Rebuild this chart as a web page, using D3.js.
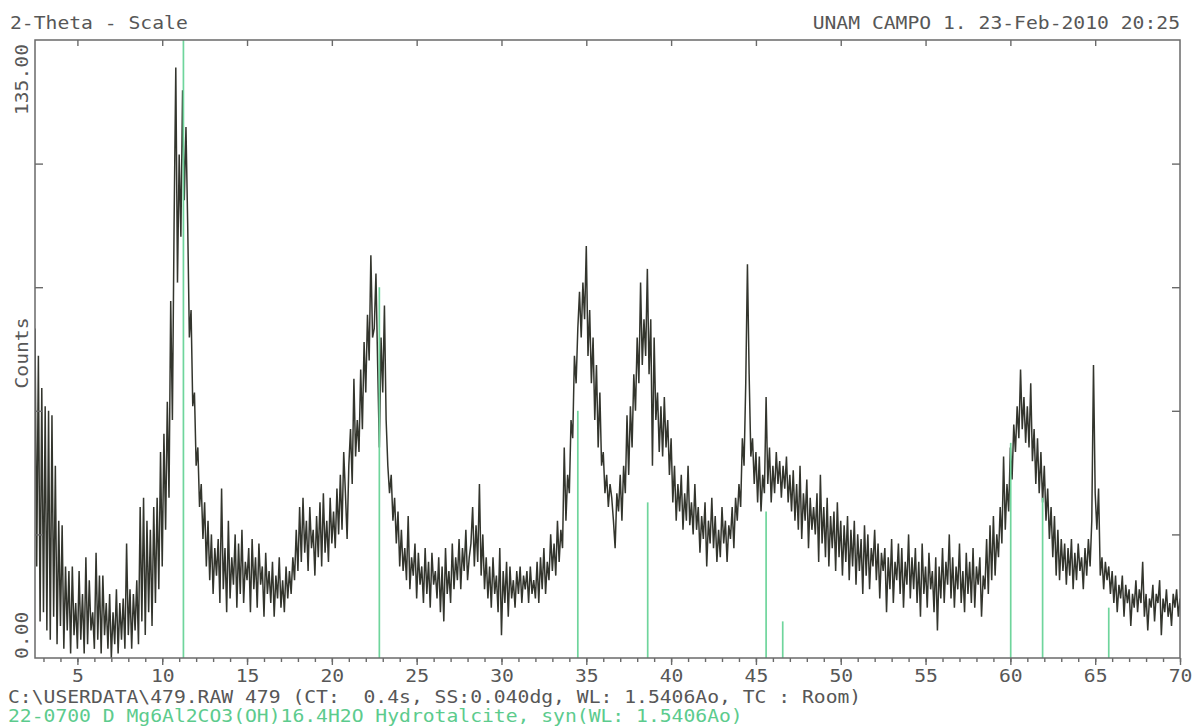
<!doctype html>
<html lang="en">
<head>
  <meta charset="utf-8">
  <title>2-Theta - Scale</title>
  <script type="text/javascript" src="https://cdnjs.cloudflare.com/ajax/libs/d3/7.8.5/d3.min.js"></script>
  <style>
    body { margin: 0; background: #fff; }
    text { font-family: "DejaVu Sans Mono", "Liberation Mono", monospace; white-space: pre; }
  </style>
</head>
<body>
  <svg width="1196" height="726" id="svg"></svg>
</body>
<script type="text/javascript">

  /* measured counts, one row per degree, 0.1 deg apart; row r starts at 2.5 + r */
  var rowStart = 2.5;
  var step = 0.1;
  var countRows = [
    [72, 20, 66, 8, 59, 10, 55, 6, 54, 4],        // 2.5
    [53, 9, 42, 3, 30, 7, 29, 2, 20, 6],          // 3.5
    [19, 1, 20, 5, 12, 2, 19, 4, 14, 1],          // 4.5
    [22, 3, 17, 6, 10, 2, 23, 4, 18, 1],          // 5.5
    [18, 5, 12, 2, 14, 0, 10, 3, 15, 1],          // 6.5
    [12, 4, 13, 2, 25, 5, 15, 2, 14, 6],          // 7.5
    [17, 3, 33, 8, 35, 5, 30, 10, 28, 7],         // 8.5
    [33, 12, 35, 15, 45, 20, 49, 28, 56, 35],     // 9.5
    [78, 52, 95, 129, 82, 110, 92, 124, 100, 116],// 10.5
    [95, 70, 76, 55, 58, 42, 46, 33, 38, 26],     // 11.5
    [34, 20, 30, 17, 27, 14, 24, 18, 26, 12],     // 12.5
    [37, 15, 24, 10, 30, 13, 22, 16, 27, 11],     // 13.5
    [25, 14, 28, 12, 21, 17, 24, 10, 26, 15],     // 14.5
    [22, 11, 25, 16, 20, 9, 23, 14, 19, 12],      // 15.5
    [21, 9, 18, 13, 22, 11, 17, 10, 20, 13],      // 16.5
    [19, 14, 22, 17, 28, 19, 33, 21, 35, 23],     // 17.5
    [30, 19, 33, 24, 28, 18, 31, 22, 34, 20],     // 18.5
    [36, 23, 30, 21, 35, 25, 32, 24, 37, 27],     // 19.5
    [40, 28, 45, 36, 26, 42, 50, 38, 61, 44],     // 20.5
    [52, 45, 63, 50, 69, 58, 75, 65, 88, 70],     // 21.5
    [72, 84, 64, 46, 70, 58, 77, 52, 42, 36],     // 22.5
    [40, 30, 35, 25, 32, 20, 28, 19, 24, 17],     // 23.5
    [31, 15, 22, 18, 25, 13, 23, 16, 20, 12],     // 24.5
    [24, 14, 21, 11, 23, 16, 19, 13, 22, 10],     // 25.5
    [20, 8, 24, 14, 19, 12, 25, 15, 22, 17],      // 26.5
    [26, 15, 24, 19, 28, 17, 22, 25, 33, 20],     // 27.5
    [29, 21, 38, 18, 27, 15, 22, 13, 20, 11],     // 28.5
    [22, 14, 18, 10, 24, 5, 19, 12, 21, 9],       // 29.5
    [20, 13, 17, 11, 19, 14, 20, 12, 18, 15],     // 30.5
    [19, 12, 20, 14, 17, 13, 21, 12, 22, 15],     // 31.5
    [24, 14, 21, 17, 27, 19, 25, 18, 30, 21],     // 32.5
    [28, 24, 46, 30, 40, 36, 52, 48, 66, 60],     // 33.5
    [72, 80, 70, 82, 74, 90, 66, 76, 60, 70],     // 34.5
    [52, 64, 46, 58, 42, 45, 36, 40, 33, 38],     // 35.5
    [35, 30, 24, 36, 32, 40, 30, 42, 36, 53],     // 36.5
    [40, 55, 46, 62, 54, 70, 60, 82, 64, 74],     // 37.5
    [66, 85, 62, 74, 42, 70, 52, 58, 45, 55],     // 38.5
    [44, 57, 46, 52, 40, 48, 34, 42, 30, 38],     // 39.5
    [32, 40, 28, 36, 30, 42, 29, 34, 27, 38],     // 40.5
    [28, 33, 23, 31, 26, 34, 20, 30, 25, 35],     // 41.5
    [24, 31, 21, 28, 22, 33, 25, 30, 21, 29],     // 42.5
    [26, 33, 24, 35, 30, 38, 33, 48, 42, 60],     // 43.5
    [86, 62, 44, 48, 38, 45, 34, 44, 32, 40],     // 44.5
    [36, 57, 38, 46, 34, 42, 36, 45, 38, 43],     // 45.5
    [35, 42, 37, 44, 34, 40, 32, 41, 30, 38],     // 46.5
    [28, 42, 26, 36, 30, 39, 24, 35, 28, 33],     // 47.5
    [27, 36, 21, 40, 25, 33, 22, 35, 20, 31],     // 48.5
    [24, 32, 19, 34, 22, 30, 18, 29, 21, 31],     // 49.5
    [17, 28, 20, 30, 16, 27, 19, 26, 14, 29],     // 50.5
    [18, 27, 15, 24, 20, 28, 17, 25, 13, 23],     // 51.5
    [19, 24, 10, 22, 15, 26, 12, 21, 17, 25],     // 52.5
    [14, 24, 11, 21, 16, 27, 13, 22, 15, 24],     // 53.5
    [12, 21, 9, 25, 14, 20, 11, 23, 15, 19],      // 54.5
    [10, 22, 6, 20, 13, 24, 12, 21, 16, 27],      // 55.5
    [13, 22, 11, 20, 15, 25, 12, 19, 10, 23],     // 56.5
    [14, 21, 12, 24, 11, 20, 16, 22, 9, 18],      // 57.5
    [15, 26, 14, 29, 17, 31, 18, 27, 22, 33],     // 58.5
    [25, 44, 28, 38, 32, 46, 39, 51, 45, 55],     // 59.5
    [48, 63, 50, 57, 47, 55, 46, 60, 43, 50],     // 60.5
    [38, 48, 36, 45, 34, 42, 30, 37, 26, 33],     // 61.5
    [22, 31, 18, 28, 17, 26, 19, 25, 16, 24],     // 62.5
    [18, 26, 15, 23, 17, 25, 19, 22, 15, 24],     // 63.5
    [18, 26, 20, 30, 64, 36, 28, 37, 18, 22],     // 64.5
    [15, 21, 17, 20, 14, 19, 12, 18, 10, 16],     // 65.5
    [13, 18, 9, 16, 12, 15, 7, 14, 11, 17],       // 66.5
    [10, 15, 12, 21, 9, 14, 6, 13, 11, 16],       // 67.5
    [8, 14, 12, 17, 5, 13, 10, 15, 9, 12],        // 68.5
    [7, 14, 11, 15, 9, 13]                        // 69.5
  ];

  /* reference card 22-0700 (Hydrotalcite) */
  var stickAngles = [11.25, 22.8, 34.5, 38.62, 45.6, 46.58, 60.02, 61.9, 65.8];
  var stickCounts = [135, 81, 54, 34, 32, 8, 47, 35, 11];

  var xTicks = [5, 10, 15, 20, 25, 30, 35, 40, 45, 50, 55, 60, 65, 70];
  var yTicks = [27, 54, 81, 108];

  var titleLeft = '2-Theta - Scale';
  var titleRight = 'UNAM CAMPO 1. 23-Feb-2010 20:25';
  var yMaxLabel = '135.00';
  var yMinLabel = '0.00';
  var yName = 'Counts';
  var fileLine = 'C:\\USERDATA\\479.RAW 479 (CT:  0.4s, SS:0.040dg, WL: 1.5406Ao, TC : Room)';
  var cardLine = '22-0700 D Mg6Al2CO3(OH)16.4H2O Hydrotalcite, syn(WL: 1.5406Ao)';

  var points = [];
  countRows.forEach(function(row, r) {
    row.forEach(function(c, j) {
      points.push([rowStart + r + j * step, c]);
    });
  });

  var plotL = 35, plotR = 1180, plotT = 40, plotB = 658;
  var charW = 11.85;
  var grey = '#575757';

  var x = d3.scaleLinear().domain([2.5, 70]).range([plotL, plotR]);
  var y = d3.scaleLinear().domain([0, 135]).range([plotB, plotT]);

  var svg = d3.select('#svg');

  svg.append('clipPath').attr('id', 'plot')
    .append('rect')
    .attr('x', plotL).attr('y', plotT)
    .attr('width', plotR - plotL).attr('height', plotB - plotT);

  var line = d3.line()
    .x(function(d) { return x(d[0]); })
    .y(function(d) { return y(d[1]); });

  svg.append('path')
    .datum(points)
    .attr('clip-path', 'url(#plot)')
    .attr('d', line)
    .attr('fill', 'none')
    .attr('stroke', '#33352d')
    .attr('stroke-width', 1.5)
    .attr('stroke-linejoin', 'miter');

  svg.selectAll('line.stick')
    .data(stickAngles)
    .enter()
    .append('line')
    .attr('class', 'stick')
    .attr('x1', function(d) { return x(d); })
    .attr('x2', function(d) { return x(d); })
    .attr('y1', y(0))
    .attr('y2', function(d, i) { return y(stickCounts[i]); })
    .attr('stroke', '#6fd59c')
    .attr('stroke-width', 1.7);

  /* frame and ticks */
  svg.append('rect')
    .attr('x', plotL).attr('y', plotT)
    .attr('width', plotR - plotL).attr('height', plotB - plotT)
    .attr('fill', 'none')
    .attr('stroke', '#6a6a6a')
    .attr('stroke-width', 1.5);

  function styleAxis(g) {
    g.select('.domain').remove();
    g.selectAll('.tick line').attr('stroke', '#6a6a6a').attr('stroke-width', 1.4);
  }

  svg.append('g')
    .attr('transform', 'translate(0,' + plotT + ')')
    .call(d3.axisTop(x).tickValues(xTicks.slice(0, -1)).tickSize(-6).tickFormat(''))
    .call(styleAxis);

  svg.append('g')
    .attr('transform', 'translate(0,' + plotB + ')')
    .call(d3.axisBottom(x).tickValues(d3.range(3, 71)).tickSize(4).tickFormat(''))
    .call(styleAxis);

  var bottomAxis = svg.append('g')
    .attr('transform', 'translate(0,' + plotB + ')')
    .call(d3.axisBottom(x).tickValues(xTicks).tickSize(7).tickPadding(5).tickFormat(d3.format('d')))
    .call(styleAxis);
  bottomAxis.selectAll('.tick text')
    .attr('fill', grey)
    .attr('font-size', '17px')
    .attr('font-family', '"DejaVu Sans Mono", monospace')
    .attr('textLength', function(d) { return String(d).length * charW; })
    .attr('lengthAdjust', 'spacingAndGlyphs');

  svg.append('g')
    .attr('transform', 'translate(' + plotL + ',0)')
    .call(d3.axisLeft(y).tickValues(yTicks).tickSize(-8).tickFormat(''))
    .call(styleAxis);

  svg.append('g')
    .attr('transform', 'translate(' + plotR + ',0)')
    .call(d3.axisRight(y).tickValues(yTicks).tickSize(-8).tickFormat(''))
    .call(styleAxis);

  /* texts */
  function label(str, px, py, anchor, color, rot) {
    var t = svg.append('text')
      .attr('x', px).attr('y', py)
      .attr('text-anchor', anchor)
      .attr('fill', color)
      .attr('font-size', '17px')
      .attr('textLength', str.length * charW)
      .attr('lengthAdjust', 'spacingAndGlyphs')
      .text(str);
    if (rot) t.attr('transform', 'rotate(-90,' + px + ',' + py + ')');
    return t;
  }

  label(titleLeft, 10, 29, 'start', grey);
  label(titleRight, plotR, 29, 'end', grey);
  label(yMaxLabel, 28, 44, 'end', grey, true);
  label(yName, 28, 353, 'middle', grey, true);
  label(yMinLabel, 28, 659, 'start', grey, true);
  label(fileLine, 8, 703, 'start', grey);
  label(cardLine, 8, 722, 'start', '#5ccb8d');

</script>
</html>
